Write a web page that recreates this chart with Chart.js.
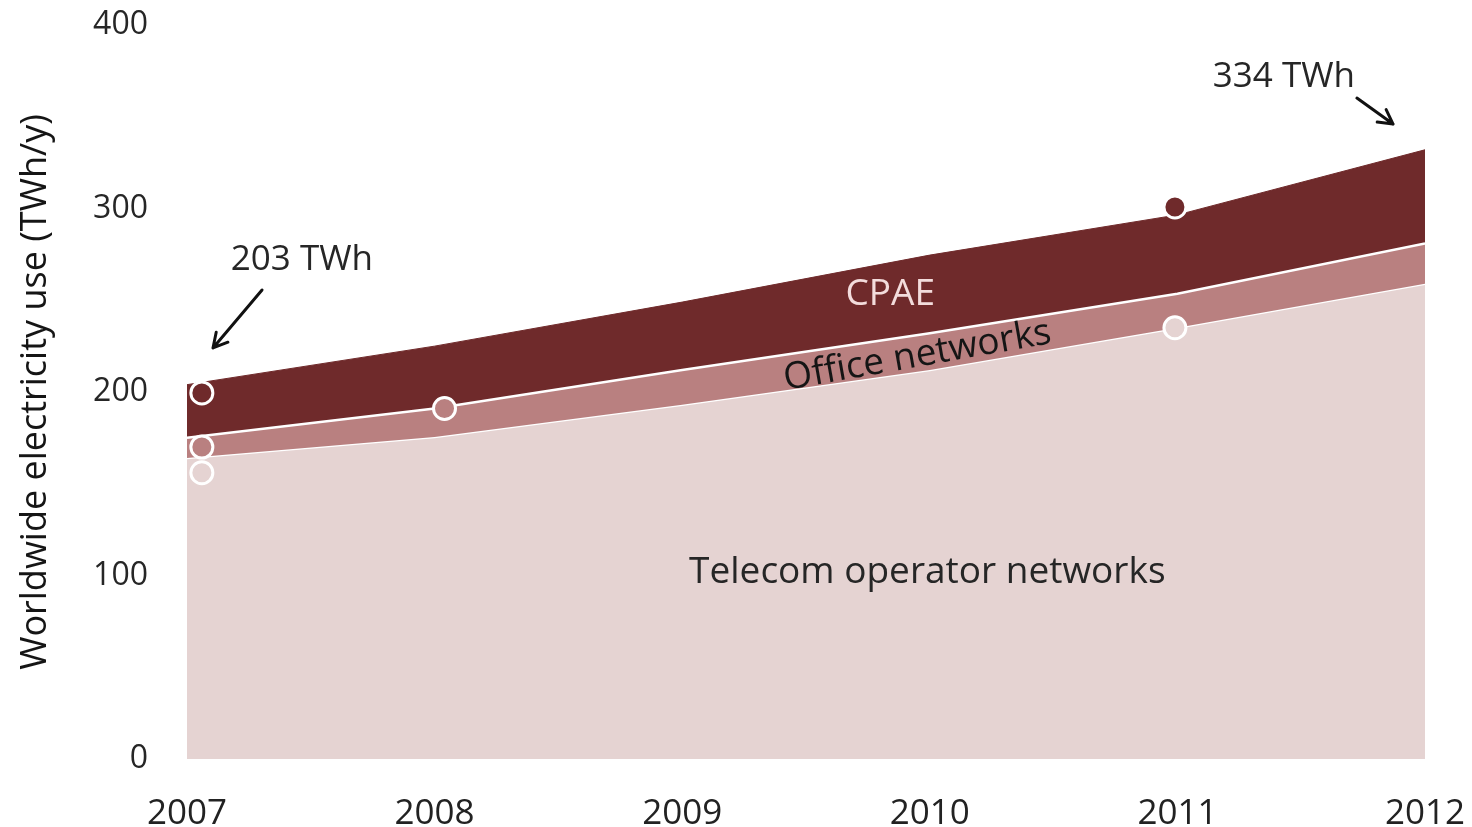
<!DOCTYPE html>
<html>
<head>
<meta charset="utf-8">
<script src="https://cdn.jsdelivr.net/npm/chart.js@4"></script>
<style>
html,body{margin:0;padding:0;background:#fff;}
#wrap{width:1472px;height:827px;position:relative;}
</style>
</head>
<body>
<div id="wrap"><canvas id="c" width="1472" height="827"></canvas></div>
<script>
// ---- data ----
const years = [2007, 2008, 2009, 2010, 2011, 2012];
const telecom = [164, 175.5, 193, 212, 235, 259];
const office = [11, 15.5, 19, 20, 18.5, 22];
const cpae = [29, 34, 37, 42.6, 43, 51];
const yTicks = [0, 100, 200, 300, 400];
// measured data points (markers)
const markerX = [2007.06, 2007.06, 2007.06, 2008.04, 2010.99, 2010.99];
const markerY = [199.5, 170, 156, 191, 300.8, 235];
const markerLayer = ['cpae', 'office', 'telecom', 'office', 'cpae', 'telecom'];
const totalLabels = ['203 TWh', '334 TWh'];
const seriesNames = ['Telecom operator networks', 'Office networks', 'CPAE'];

// ---- styles ----
const colors = { telecom: '#e5d3d2', office: '#b98080', cpae: '#6f2a2b' };
const FONT = '"Open Sans", "DejaVu Sans", sans-serif';

const cum1 = telecom.slice();
const cum2 = telecom.map((v, i) => v + office[i]);
const cum3 = cum2.map((v, i) => v + cpae[i]);
const pts = arr => years.map((x, i) => ({ x: x, y: arr[i] }));

const annotations = [
  { text: seriesNames[2], x: 2009.84, y: 252.9, color: '#f3dcdc', size: 37, rot: 0 },
  { text: seriesNames[1], x: 2009.95, y: 219.6, color: '#151515', size: 37, rot: -10 },
  { text: seriesNames[0], x: 2009.99, y: 101.9, color: '#262626', size: 37, rot: 0 },
  { text: totalLabels[0], x: 2007.464, y: 271.9, color: '#262626', size: 35, rot: 0 },
  { text: totalLabels[1], x: 2011.43, y: 371.7, color: '#262626', size: 35, rot: 0 }
];
const arrows = [
  { x1: 2007.303, y1: 255.6, x2: 2007.105, y2: 224.0 },
  { x1: 2011.725, y1: 360.2, x2: 2011.871, y2: 346.0 }
];

const annPlugin = {
  id: 'ann',
  afterDatasetsDraw(chart) {
    const ctx = chart.ctx, xs = chart.scales.x, ys = chart.scales.y;
    ctx.save();
    annotations.forEach(a => {
      ctx.save();
      ctx.translate(xs.getPixelForValue(a.x), ys.getPixelForValue(a.y));
      ctx.rotate(a.rot * Math.PI / 180);
      ctx.font = a.size + 'px ' + FONT;
      ctx.fillStyle = a.color;
      ctx.textAlign = 'center';
      ctx.textBaseline = 'middle';
      ctx.fillText(a.text, 0, 0);
      ctx.restore();
    });
    arrows.forEach(a => {
      const x1 = xs.getPixelForValue(a.x1), y1 = ys.getPixelForValue(a.y1);
      const x2 = xs.getPixelForValue(a.x2), y2 = ys.getPixelForValue(a.y2);
      const ang = Math.atan2(y2 - y1, x2 - x1);
      ctx.strokeStyle = '#111';
      ctx.lineWidth = 3;
      ctx.lineCap = 'round';
      ctx.beginPath();
      ctx.moveTo(x1, y1); ctx.lineTo(x2, y2);
      const h = 16, spread = 0.5;
      ctx.moveTo(x2, y2);
      ctx.lineTo(x2 - h * Math.cos(ang - spread), y2 - h * Math.sin(ang - spread));
      ctx.moveTo(x2, y2);
      ctx.lineTo(x2 - h * Math.cos(ang + spread), y2 - h * Math.sin(ang + spread));
      ctx.stroke();
    });
    ctx.restore();
  }
};

const markerData = markerX.map((x, i) => ({ x: x, y: markerY[i] }));

new Chart(document.getElementById('c'), {
  type: 'line',
  data: {
    datasets: [
      { label: seriesNames[0], data: pts(cum1), fill: 'origin', backgroundColor: colors.telecom,
        borderColor: '#ffffff', borderWidth: 2.5, pointRadius: 0, tension: 0, order: 3 },
      { label: seriesNames[1], data: pts(cum2), fill: '-1', backgroundColor: colors.office,
        borderColor: '#ffffff', borderWidth: 2.5, pointRadius: 0, tension: 0, order: 2 },
      { label: seriesNames[2], data: pts(cum3), fill: '-1', backgroundColor: colors.cpae,
        borderColor: colors.cpae, borderWidth: 1, pointRadius: 0, tension: 0, order: 4 },
      { label: 'markers', data: markerData, showLine: false, fill: false, order: 0,
        pointRadius: 11, pointHoverRadius: 11, pointBorderWidth: 3, pointBorderColor: '#ffffff',
        pointBackgroundColor: markerLayer.map(k => colors[k]) }
    ]
  },
  options: {
    responsive: false,
    animation: false,
    events: [],
    layout: { autoPadding: false, padding: { left: 0, right: 47, top: 25, bottom: 0 } },
    plugins: { legend: { display: false }, tooltip: { enabled: false } },
    scales: {
      x: {
        type: 'linear', min: 2007, max: 2012,
        grid: { display: false }, border: { display: false },
        ticks: { stepSize: 1, color: '#222222', font: { family: FONT, size: 35 }, padding: 26,
                 maxRotation: 0, callback: v => String(v) },
        afterFit: s => { s.height = 68; s.paddingLeft = 0; s.paddingRight = 0; }
      },
      y: {
        min: 0, max: 400,
        grid: { display: false }, border: { display: false },
        afterBuildTicks: s => { s.ticks = yTicks.map(v => ({ value: v })); },
        ticks: { color: '#262626', font: { family: FONT, size: 32 }, padding: 31 },
        title: { display: true, text: 'Worldwide electricity use (TWh/y)', color: '#151515',
                 font: { family: FONT, size: 36 }, padding: { top: 14, bottom: 0 } },
        afterFit: s => { s.width = 187; s.paddingTop = 0; s.paddingBottom = 0; }
      }
    }
  },
  plugins: [annPlugin]
});
</script>
</body>
</html>
